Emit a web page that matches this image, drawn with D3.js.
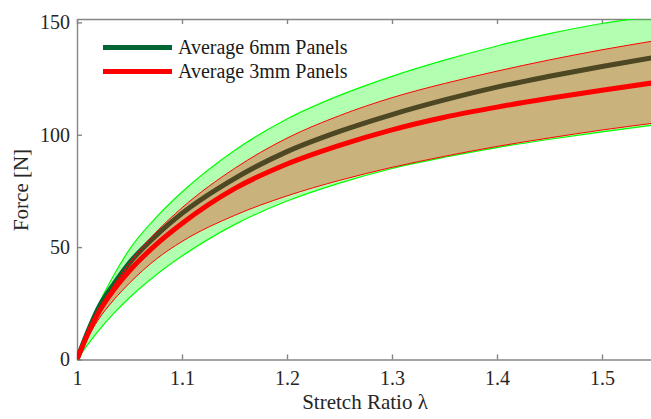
<!DOCTYPE html>
<html>
<head>
<meta charset="utf-8">
<title>Force vs Stretch Ratio</title>
<style>
body { margin: 0; background: #fff; }
svg text { font-family: "Liberation Serif", "Times New Roman", serif; }
.axis path, .axis line { stroke: #858585; stroke-width: 1.4; }
.axis text { fill: #262626; font-size: 20px; }
</style>
</head>
<body>
<script src="https://d3js.org/d3.v7.min.js"></script>
<script>
// stretch ratio samples
var lambda = [1, 1.01, 1.02, 1.035, 1.05, 1.075, 1.1, 1.15, 1.2, 1.25, 1.3, 1.35, 1.4, 1.45, 1.5, 1.55];

// 6mm panels: band + average
var upper6 = [0, 13, 24, 37.5, 49, 63, 74.5, 93, 107, 117.5, 126, 133.2, 139.5, 145, 149.5, 152.8];
var mean6  = [0, 12, 22.5, 33.5, 43, 55, 65, 80.5, 92.5, 101.5, 109, 115.5, 121.2, 126, 130.4, 134.4];
var lower6 = [0, 6.5, 12.5, 20.5, 27.5, 37.5, 46, 60, 70.5, 78.5, 85, 90, 94.3, 98, 101.3, 104.4];

// 3mm panels: band + average
var upper3 = [0, 11.5, 21.5, 33, 43, 56.5, 67.5, 85, 98.5, 108.5, 116.5, 122.8, 128.3, 133.3, 137.8, 141.8];
var mean3  = [0, 11, 20.5, 31, 39.5, 51, 60.5, 76, 87, 95.3, 102.2, 107.8, 112.3, 116.2, 119.8, 123.2];
var lower3 = [0, 9.5, 17.5, 26.5, 34, 44.5, 52.5, 64.1, 72.8, 79.7, 85.5, 90.4, 94.8, 98.6, 102.1, 105.2];

var xTicks = [1, 1.1, 1.2, 1.3, 1.4, 1.5];
var yTicks = [0, 50, 100, 150];
var legendLabels = ["Average 6mm Panels", "Average 3mm Panels"];

var width = 651, height = 419;
var padL = 77, padT = 19, padB = 359.5, padR = 707;

var svg = d3.select("body").append("svg")
  .attr("width", width)
  .attr("height", height)
  .style("display", "block");

var x = d3.scaleLinear().domain([1, 1.6]).range([padL, padR]);
var y = d3.scaleLinear().domain([0, 151.5]).range([padB, padT]);

// clip for the plot box
svg.append("clipPath").attr("id", "plotclip")
  .append("rect")
  .attr("x", padL).attr("y", padT)
  .attr("width", padR - padL).attr("height", padB - padT);

// axes (ticks point inward like matlab)
svg.append("g").attr("class", "axis")
  .attr("transform", "translate(0," + padB + ")")
  .call(d3.axisBottom(x).tickValues(xTicks).tickFormat(function(d){ return String(d); })
    .tickSizeInner(-5).tickSizeOuter(0).tickPadding(11));

svg.append("g").attr("class", "axis")
  .attr("transform", "translate(0," + padT + ")")
  .call(d3.axisTop(x).tickValues(xTicks).tickFormat("")
    .tickSizeInner(-5).tickSizeOuter(0));

svg.append("g").attr("class", "axis")
  .attr("transform", "translate(" + padL + ",0)")
  .call(d3.axisLeft(y).tickValues(yTicks).tickSizeInner(-5).tickSizeOuter(0).tickPadding(7));

// d3 puts sans-serif on the axis groups, drop it
svg.selectAll(".axis").attr("font-family", null).attr("font-size", null);

// axis labels
svg.append("text")
  .attr("x", 365).attr("y", 409)
  .attr("text-anchor", "middle")
  .attr("fill", "#262626")
  .style("font-size", "21px")
  .text("Stretch Ratio \u03bb");

svg.append("text")
  .attr("transform", "translate(28,190) rotate(-90)")
  .attr("text-anchor", "middle")
  .attr("fill", "#262626")
  .style("font-size", "21px")
  .text("Force [N]");

var plot = svg.append("g").attr("clip-path", "url(#plotclip)");

function pts(arr) {
  return lambda.map(function(l, i){ return [l, arr[i]]; });
}

var line = d3.line()
  .x(function(d){ return x(d[0]); })
  .y(function(d){ return y(d[1]); })
  .curve(d3.curveMonotoneX);

var area = d3.area()
  .x(function(d){ return x(d.l); })
  .y0(function(d){ return y(d.lo); })
  .y1(function(d){ return y(d.hi); })
  .curve(d3.curveMonotoneX);

function band(lo, hi) {
  return lambda.map(function(l, i){ return {l: l, lo: lo[i], hi: hi[i]}; });
}

// 6mm band
plot.append("path").attr("d", area(band(lower6, upper6)))
  .attr("fill", "rgb(0,255,0)").attr("fill-opacity", 0.3);
plot.append("path").attr("d", line(pts(upper6)))
  .attr("fill", "none").attr("stroke", "#00ff00").attr("stroke-width", 1.2);
plot.append("path").attr("d", line(pts(lower6)))
  .attr("fill", "none").attr("stroke", "#00ff00").attr("stroke-width", 1.2);
plot.append("path").attr("d", line(pts(mean6)))
  .attr("fill", "none").attr("stroke", "rgb(0,102,51)").attr("stroke-width", 5);

// 3mm band goes over it
plot.append("path").attr("d", area(band(lower3, upper3)))
  .attr("fill", "rgb(255,0,0)").attr("fill-opacity", 0.3);
plot.append("path").attr("d", line(pts(upper3)))
  .attr("fill", "none").attr("stroke", "#ff0000").attr("stroke-width", 1);
plot.append("path").attr("d", line(pts(lower3)))
  .attr("fill", "none").attr("stroke", "#ff0000").attr("stroke-width", 1);
plot.append("path").attr("d", line(pts(mean3)))
  .attr("fill", "none").attr("stroke", "#ff0000").attr("stroke-width", 5);

// legend
var legendColors = ["rgb(0,102,51)", "#ff0000"];
var lg = svg.append("g");
legendLabels.forEach(function(t, i){
  var ly = 47.5 + i * 24;
  lg.append("line")
    .attr("x1", 103).attr("x2", 172)
    .attr("y1", ly).attr("y2", ly)
    .attr("stroke", legendColors[i]).attr("stroke-width", 5);
  lg.append("text")
    .attr("x", 178).attr("y", ly + 6.5)
    .attr("fill", "#1a1a1a")
    .style("font-size", "20px")
    .text(t);
});
</script>
</body>
</html>
